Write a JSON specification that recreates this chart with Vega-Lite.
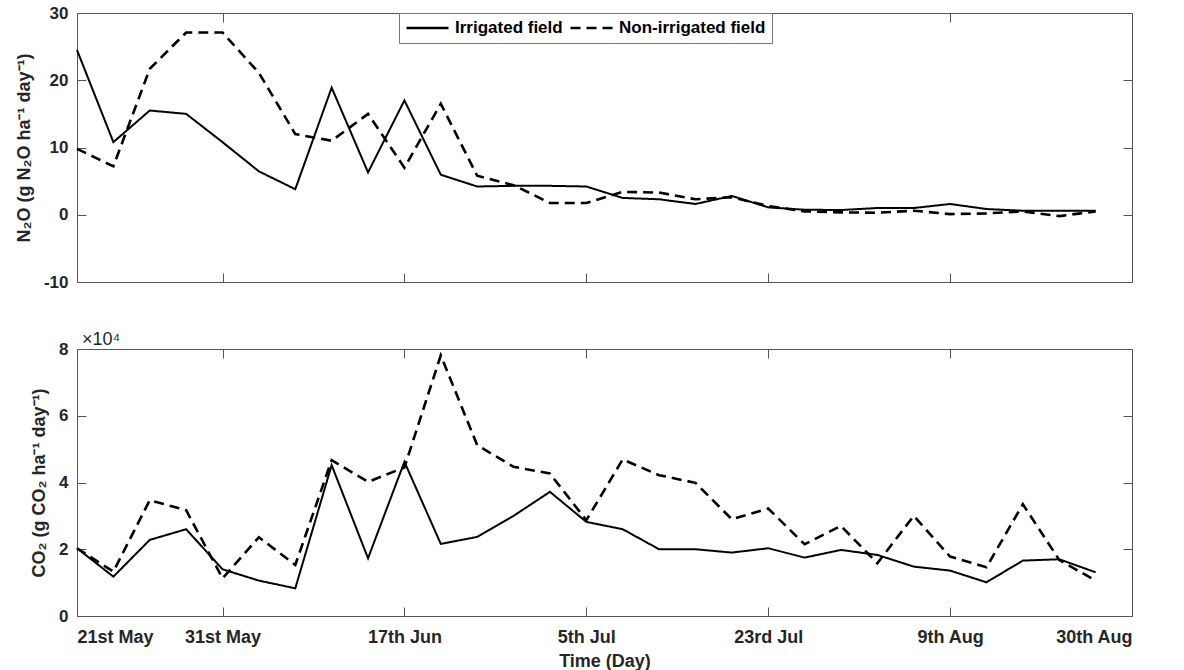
{
  "$schema": "https://vega.github.io/schema/vega-lite/v6.json",
  "background": "white",
  "padding": {"left": 14, "top": 3, "right": 20, "bottom": 0},
  "datasets": {
    "d": [
      {"i":0,"s":"Irrigated field","n2o":24.5,"co2":20300},
      {"i":1,"s":"Irrigated field","n2o":10.8,"co2":11800},
      {"i":2,"s":"Irrigated field","n2o":15.5,"co2":22800},
      {"i":3,"s":"Irrigated field","n2o":15.0,"co2":26000},
      {"i":4,"s":"Irrigated field","n2o":10.8,"co2":14000},
      {"i":5,"s":"Irrigated field","n2o":6.45,"co2":10600},
      {"i":6,"s":"Irrigated field","n2o":3.8,"co2":8300},
      {"i":7,"s":"Irrigated field","n2o":18.9,"co2":45200},
      {"i":8,"s":"Irrigated field","n2o":6.3,"co2":17300},
      {"i":9,"s":"Irrigated field","n2o":17.0,"co2":46200},
      {"i":10,"s":"Irrigated field","n2o":5.95,"co2":21600},
      {"i":11,"s":"Irrigated field","n2o":4.2,"co2":23700},
      {"i":12,"s":"Irrigated field","n2o":4.3,"co2":30000},
      {"i":13,"s":"Irrigated field","n2o":4.3,"co2":37200},
      {"i":14,"s":"Irrigated field","n2o":4.2,"co2":28200},
      {"i":15,"s":"Irrigated field","n2o":2.5,"co2":26000},
      {"i":16,"s":"Irrigated field","n2o":2.3,"co2":20000},
      {"i":17,"s":"Irrigated field","n2o":1.6,"co2":20000},
      {"i":18,"s":"Irrigated field","n2o":2.8,"co2":19000},
      {"i":19,"s":"Irrigated field","n2o":1.1,"co2":20300},
      {"i":20,"s":"Irrigated field","n2o":0.75,"co2":17500},
      {"i":21,"s":"Irrigated field","n2o":0.7,"co2":19800},
      {"i":22,"s":"Irrigated field","n2o":1.0,"co2":18300},
      {"i":23,"s":"Irrigated field","n2o":1.0,"co2":14800},
      {"i":24,"s":"Irrigated field","n2o":1.6,"co2":13600},
      {"i":25,"s":"Irrigated field","n2o":0.85,"co2":10100},
      {"i":26,"s":"Irrigated field","n2o":0.6,"co2":16600},
      {"i":27,"s":"Irrigated field","n2o":0.6,"co2":17000},
      {"i":28,"s":"Irrigated field","n2o":0.6,"co2":13100},
      {"i":0,"s":"Non-irrigated field","n2o":9.8,"co2":20300},
      {"i":1,"s":"Non-irrigated field","n2o":7.2,"co2":13300},
      {"i":2,"s":"Non-irrigated field","n2o":21.7,"co2":34700},
      {"i":3,"s":"Non-irrigated field","n2o":27.1,"co2":31700},
      {"i":4,"s":"Non-irrigated field","n2o":27.1,"co2":11300},
      {"i":5,"s":"Non-irrigated field","n2o":21.1,"co2":23600},
      {"i":6,"s":"Non-irrigated field","n2o":12.0,"co2":15300},
      {"i":7,"s":"Non-irrigated field","n2o":11.0,"co2":46700},
      {"i":8,"s":"Non-irrigated field","n2o":15.0,"co2":40200},
      {"i":9,"s":"Non-irrigated field","n2o":7.0,"co2":44500},
      {"i":10,"s":"Non-irrigated field","n2o":16.5,"co2":78100},
      {"i":11,"s":"Non-irrigated field","n2o":5.8,"co2":51200},
      {"i":12,"s":"Non-irrigated field","n2o":4.4,"co2":44700},
      {"i":13,"s":"Non-irrigated field","n2o":1.75,"co2":42700},
      {"i":14,"s":"Non-irrigated field","n2o":1.75,"co2":28700},
      {"i":15,"s":"Non-irrigated field","n2o":3.4,"co2":46900},
      {"i":16,"s":"Non-irrigated field","n2o":3.3,"co2":42200},
      {"i":17,"s":"Non-irrigated field","n2o":2.3,"co2":39900},
      {"i":18,"s":"Non-irrigated field","n2o":2.6,"co2":29000},
      {"i":19,"s":"Non-irrigated field","n2o":1.3,"co2":32200},
      {"i":20,"s":"Non-irrigated field","n2o":0.5,"co2":21500},
      {"i":21,"s":"Non-irrigated field","n2o":0.35,"co2":27000},
      {"i":22,"s":"Non-irrigated field","n2o":0.3,"co2":15800},
      {"i":23,"s":"Non-irrigated field","n2o":0.6,"co2":30000},
      {"i":24,"s":"Non-irrigated field","n2o":0.1,"co2":17800},
      {"i":25,"s":"Non-irrigated field","n2o":0.2,"co2":14600},
      {"i":26,"s":"Non-irrigated field","n2o":0.5,"co2":33500},
      {"i":27,"s":"Non-irrigated field","n2o":-0.2,"co2":16800},
      {"i":28,"s":"Non-irrigated field","n2o":0.5,"co2":10600}
    ]
  },
  "data": {"name": "d"},
  "config": {
    "font": "Liberation Sans",
    "view": {"stroke": "#555555", "strokeWidth": 1},
    "axis": {
      "domain": false,
      "grid": false,
      "ticks": true,
      "tickSize": -9,
      "tickColor": "#555555",
      "labelFont": "Liberation Sans",
      "labelFontWeight": "bold",
      "labelFontSize": 17,
      "labelColor": "#262626",
      "titleFont": "Liberation Sans",
      "titleFontWeight": "bold",
      "titleFontSize": 18,
      "titleColor": "#262626"
    },
    "axisY": {"labelPadding": 18, "titlePadding": 10},
    "axisX": {"labelPadding": 21, "titlePadding": 6, "labelFontSize": 18}
  },
  "resolve": {"legend": {"strokeDash": "independent"}},
  "spacing": 39,
  "vconcat": [
    {
      "width": 1055,
      "height": 269,
      "layer": [
        {
          "mark": {"type": "line", "color": "black"},
          "encoding": {
            "x": {"field": "i", "type": "quantitative",
              "scale": {"domain": [0, 29], "nice": false, "zero": false},
              "axis": {"orient": "bottom", "values": [0, 4, 9, 14, 19, 24, 29], "labels": false, "title": null}},
            "y": {"field": "n2o", "type": "quantitative",
              "scale": {"domain": [-10, 30], "nice": false},
              "axis": {"orient": "left", "values": [-10, 0, 10, 20, 30], "labelExpr": "'' + datum.value", "title": "N₂O (g N₂O ha⁻¹ day⁻¹)"}},
            "strokeDash": {"field": "s", "type": "nominal",
              "scale": {"domain": ["Irrigated field", "Non-irrigated field"], "range": [[1, 0], [10, 6]]},
              "legend": {
                "orient": "none", "legendX": 322, "legendY": 0,
                "direction": "horizontal", "title": null,
                "symbolType": "stroke", "symbolSize": 1764, "symbolStrokeWidth": 2.5,
                "symbolStrokeColor": "black", "clipHeight": 18,
                "labelFont": "Liberation Sans", "labelFontWeight": "bold", "labelFontSize": 17,
                "labelColor": "#000000", "labelOffset": 5, "columnPadding": 6,
                "strokeColor": "#777777", "fillColor": "white", "padding": 6
              }},
            "strokeWidth": {"field": "s", "type": "nominal",
              "scale": {"domain": ["Irrigated field", "Non-irrigated field"], "range": [2, 2.6]},
              "legend": null}
          }
        },
        {
          "mark": {"type": "line", "opacity": 0},
          "encoding": {
            "x": {"field": "i", "type": "quantitative",
              "axis": {"orient": "top", "values": [0, 4, 9, 14, 19, 24, 29], "labels": false, "title": null}},
            "y": {"field": "n2o", "type": "quantitative",
              "axis": {"orient": "right", "values": [-10, 0, 10, 20, 30], "labels": false, "title": null}},
            "detail": {"field": "s"}
          }
        }
      ]
    },
    {
      "width": 1055,
      "height": 267,
      "title": {"text": "×10⁴", "anchor": "start", "frame": "group", "fontSize": 18, "fontWeight": "normal", "font": "Liberation Sans", "color": "#262626", "offset": 3, "dx": 5, "dy": 12},
      "layer": [
        {
          "mark": {"type": "line", "color": "black"},
          "encoding": {
            "x": {"field": "i", "type": "quantitative",
              "scale": {"domain": [0, 29], "nice": false, "zero": false},
              "axis": {"orient": "bottom", "values": [0, 4, 9, 14, 19, 24, 29], "title": "Time (Day)",
                "labelExpr": "datum.value == 0 ? '21st May' : datum.value == 4 ? '31st May' : datum.value == 9 ? '17th Jun' : datum.value == 14 ? '5th Jul' : datum.value == 19 ? '23rd Jul' : datum.value == 24 ? '9th Aug' : '30th Aug'"}},
            "y": {"field": "co2", "type": "quantitative",
              "scale": {"domain": [0, 80000], "nice": false},
              "axis": {"orient": "left", "values": [0, 20000, 40000, 60000, 80000], "labelExpr": "format(datum.value / 10000, 'd')", "title": "CO₂ (g CO₂ ha⁻¹ day⁻¹)"}},
            "strokeDash": {"field": "s", "type": "nominal",
              "scale": {"domain": ["Irrigated field", "Non-irrigated field"], "range": [[1, 0], [10, 6]]},
              "legend": null},
            "strokeWidth": {"field": "s", "type": "nominal",
              "scale": {"domain": ["Irrigated field", "Non-irrigated field"], "range": [2, 2.6]},
              "legend": null}
          }
        },
        {
          "mark": {"type": "line", "opacity": 0},
          "encoding": {
            "x": {"field": "i", "type": "quantitative",
              "axis": {"orient": "top", "values": [0, 4, 9, 14, 19, 24, 29], "labels": false, "title": null}},
            "y": {"field": "co2", "type": "quantitative",
              "axis": {"orient": "right", "values": [0, 20000, 40000, 60000, 80000], "labels": false, "title": null}},
            "detail": {"field": "s"}
          }
        }
      ]
    }
  ]
}
